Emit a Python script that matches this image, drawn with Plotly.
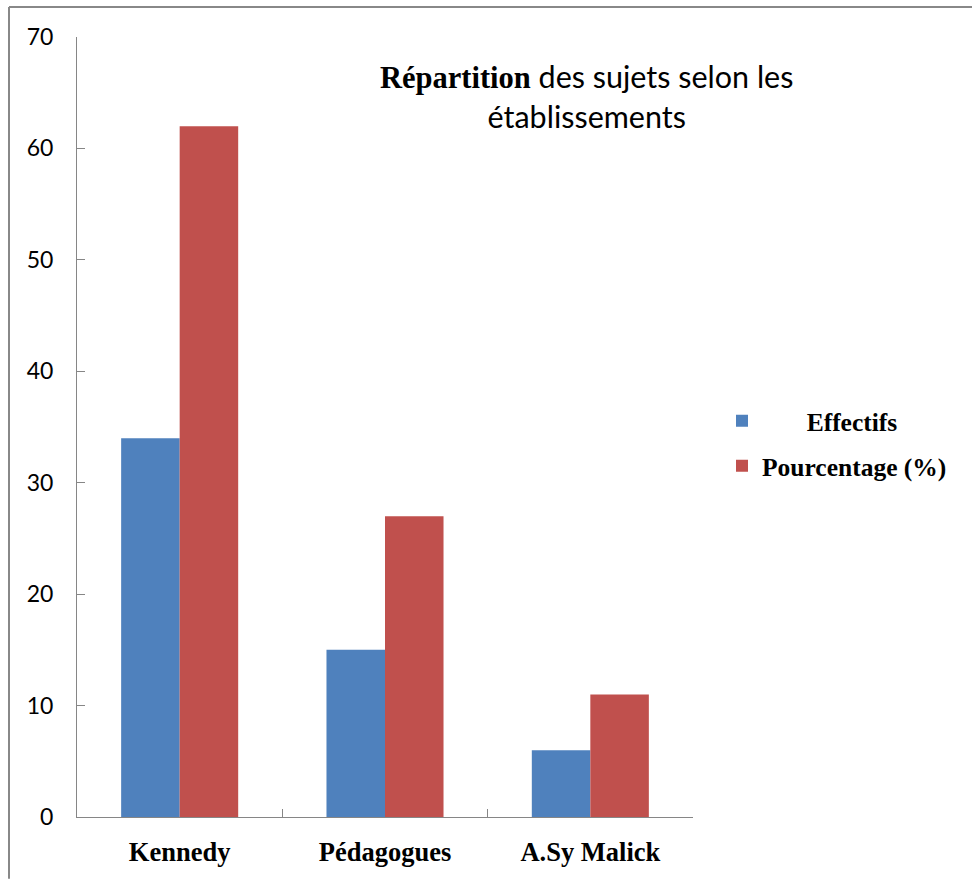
import plotly.graph_objects as go

categories = ["Kennedy", "Pédagogues", "A.Sy Malick"]
effectifs = [34, 15, 6]
pourcentage = [62, 27, 11]
series_names = ["Effectifs", "Pourcentage (%)"]
y_ticks = [0, 10, 20, 30, 40, 50, 60, 70]

BLUE = "#4F81BD"
RED = "#C0504D"
AXIS = "#868686"
SERIF = "Liberation Serif"
SANS = "Lato"

W, H = 972, 879
L, R, T, B = 77, 279, 37, 59
pw = W - L - R
ph = H - T - B

def px_x(x):
    return (x - L) / pw

def px_y(y):
    return 1 - (y - T) / ph

fig = go.Figure()
fig.add_trace(go.Bar(
    x=categories, y=effectifs,
    name="\u00a0" * 7 + series_names[0],
    marker=dict(color=BLUE, line=dict(width=0)),
    legendgroup="a",
))
fig.add_trace(go.Bar(
    x=categories, y=pourcentage,
    name=series_names[1],
    marker=dict(color=RED, line=dict(width=0)),
    legendgroup="b",
))

title_html = (
    f"<span style=\"font-family:'{SERIF}';font-weight:bold\">Répartition</span>"
    " des sujets selon les<br>établissements"
)
fig.add_annotation(
    text=title_html, xref="paper", yref="paper",
    x=px_x(586), y=px_y(96), xanchor="center", yanchor="middle",
    showarrow=False, align="center",
    font=dict(family=SANS, size=30.5, color="#000000"),
)

# outer frame (top and left edges)
fig.add_shape(type="line", xref="paper", yref="paper",
              x0=px_x(9), x1=px_x(975), y0=px_y(7), y1=px_y(7),
              line=dict(color="#888888", width=2))
fig.add_shape(type="line", xref="paper", yref="paper",
              x0=px_x(9), x1=px_x(9), y0=px_y(7), y1=px_y(882),
              line=dict(color="#888888", width=2))

fig.update_layout(
    width=W, height=H,
    margin=dict(l=L, r=R, t=T, b=B, pad=0),
    paper_bgcolor="white", plot_bgcolor="white",
    barmode="group", bargap=0.43, bargroupgap=0,
    showlegend=True,
    legend=dict(
        x=px_x(722), y=px_y(399), xanchor="left", yanchor="top",
        font=dict(family=SERIF, size=25.5, color="#000000", weight="bold"),
        tracegroupgap=9, traceorder="grouped",
        itemwidth=30, bgcolor="rgba(0,0,0,0)",
    ),
    font=dict(family=SANS, color="#000000"),
)
fig.update_xaxes(
    showline=True, linecolor=AXIS, linewidth=1,
    ticks="inside", ticklen=8, tickcolor=AXIS, tickson="boundaries",
    tickfont=dict(family=SERIF, size=26.5, color="#000000", weight="bold"),
    ticklabelstandoff=11,
    showgrid=False, zeroline=False,
)
fig.update_yaxes(
    range=[0, 70], tickvals=y_ticks,
    showline=True, linecolor=AXIS, linewidth=1,
    ticks="inside", ticklen=8, tickcolor=AXIS,
    tickfont=dict(family=SANS, size=23, color="#000000"),
    ticklabelstandoff=18,
    showgrid=False, zeroline=False,
)

fig.write_html("out.html")
